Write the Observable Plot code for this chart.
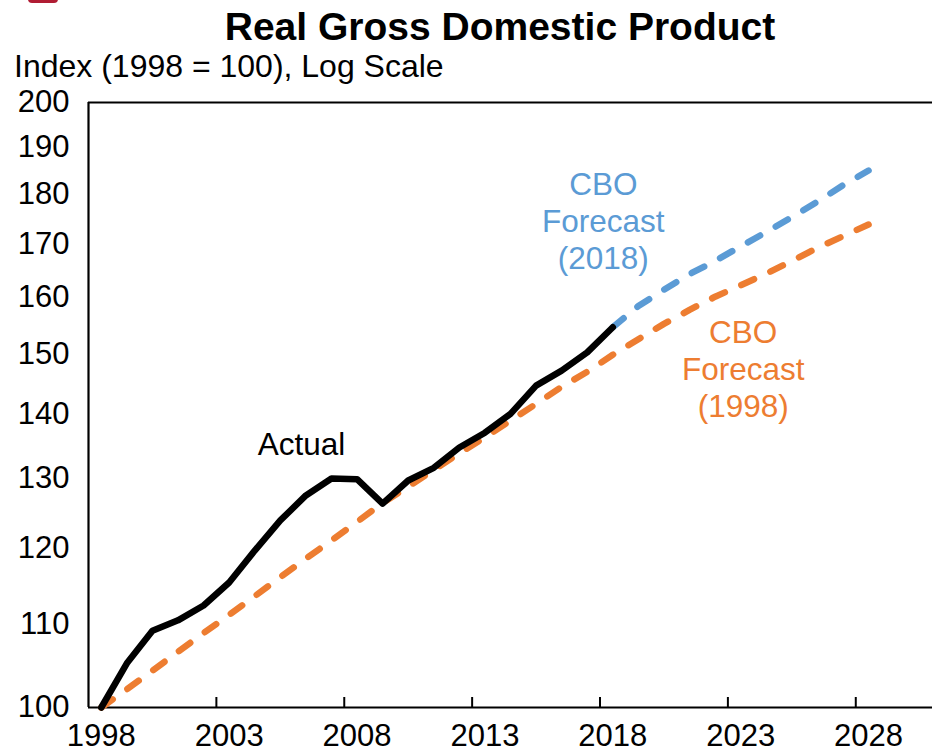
<!DOCTYPE html>
<html>
<head>
<meta charset="utf-8">
<script src="https://cdn.jsdelivr.net/npm/d3@7"></script>
<script src="https://cdn.jsdelivr.net/npm/@observablehq/plot@0.6"></script>
<style>
  html, body { margin: 0; padding: 0; background: #fff; overflow: hidden; }
  body { font-family: "Liberation Sans", Arial, Helvetica, sans-serif; color: #000; }
  #wrap { position: relative; width: 932px; height: 750px; overflow: hidden; }
  #logo { position: absolute; left: 28px; top: -8px; width: 30px; height: 11px; border-radius: 4px; background: #b01c33; }
  #title { box-sizing: content-box; padding-top: 5px; padding-left: 68px; height: 44px; line-height: 44px; font-size: 39px; font-weight: bold; text-align: center; white-space: nowrap; }
  #subtitle { padding-left: 14px; height: 34px; line-height: 34px; font-size: 32px; white-space: nowrap; }
  #chart svg { display: block; }
</style>
</head>
<body>
<div id="wrap">
  <div id="logo"></div>
  <div id="title">Real Gross Domestic Product</div>
  <div id="subtitle">Index (1998 = 100), Log Scale</div>
  <div id="chart"></div>
</div>
<script>
// ---- Data ----
const actualYears = [1998,1999,2000,2001,2002,2003,2004,2005,2006,2007,2008,2009,2010,2011,2012,2013,2014,2015,2016,2017,2018];
const actualValues = [100,105.2,109.2,110.5,112.4,115.4,119.7,123.9,127.5,130.0,129.9,126.3,129.7,131.6,134.7,137.0,140.0,144.6,147.1,150.2,154.6];

const cbo1998Years = [1998,1999,2000,2001,2002,2003,2004,2005,2006,2007,2008,2009,2010,2011,2012,2013,2014,2015,2016,2017,2018,2019,2020,2021,2022,2023,2024,2025,2026,2027,2028];
const cbo1998Values = [100,102.1,104.3,106.6,108.9,111.2,113.6,116.1,118.6,121.1,123.7,126.4,128.8,131.3,133.8,136.3,138.9,141.6,144.4,146.9,149.8,152.5,155.2,157.7,160.1,162.2,164.4,166.8,169.3,171.6,173.9];

const cbo2018Years = [2018,2019,2020,2021,2022,2023,2024,2025,2026,2027,2028];
const cbo2018Values = [154.6,158.4,161.4,164.3,166.8,169.6,172.4,175.4,178.5,181.9,185.0];

const xTickYears = [1998,2003,2008,2013,2018,2023,2028];
const yTicks = [100,110,120,130,140,150,160,170,180,190,200];
const xDomain = [1998, 2031];
const yDomain = [100, 200];

const labelTexts = ["Actual", "CBO\nForecast\n(2018)", "CBO\nForecast\n(1998)"];
const labelYears = [2006.33, 2018.13, 2023.6];
const labelValues = [135.3, 174.7, 147.45];

const colors = { actual: "#000000", cbo2018: "#5B9BD5", cbo1998: "#ED7D31" };
const labelColors = [colors.actual, colors.cbo2018, colors.cbo1998];

// ---- Build tables (categories centred in their year slot) ----
const toRows = (ys, vs) => ys.map((y, i) => ({x: y + 0.5, v: vs[i]}));
const actualRows = toRows(actualYears, actualValues);
const cbo1998Rows = toRows(cbo1998Years, cbo1998Values);
const cbo2018Rows = toRows(cbo2018Years, cbo2018Values);
const labelRows = labelTexts.map((t, i) => ({text: t, x: labelYears[i], v: labelValues[i], color: labelColors[i]}));

const font = '"Liberation Sans", Arial, Helvetica, sans-serif';

const chart = Plot.plot({
  width: 932,
  height: 667,
  marginLeft: 88,
  marginRight: 0,
  marginTop: 19,
  marginBottom: 43,
  style: { fontFamily: font, fontSize: "31px", color: "#000", background: "transparent", overflow: "visible" },
  x: { domain: xDomain, label: null },
  y: { type: "log", domain: yDomain, label: null },
  marks: [
    Plot.ruleY(yDomain, { stroke: "#000", strokeWidth: 2.2 }),
    Plot.ruleX([xDomain[0]], { stroke: "#000", strokeWidth: 2.2 }),
    Plot.axisX(xTickYears.slice(1), { tickSize: -10, tickFormat: () => "", strokeWidth: 2, label: null }),
    Plot.axisX(xTickYears.map(d => d + 0.5), { tickSize: 0, tickPadding: 16, tickFormat: d => String(Math.floor(d)), fontSize: 31, fill: "#000", label: null }),
    Plot.axisY(yTicks, { tickSize: 0, tickPadding: 19, tickFormat: d => String(d), fontSize: 31, fill: "#000", label: null }),
    Plot.line(cbo1998Rows, { x: "x", y: "v", stroke: colors.cbo1998, strokeWidth: 6.5, strokeDasharray: "14,18", strokeLinecap: "round" }),
    Plot.line(cbo2018Rows, { x: "x", y: "v", stroke: colors.cbo2018, strokeWidth: 6.5, strokeDasharray: "14,18", strokeLinecap: "round" }),
    Plot.line(actualRows, { x: "x", y: "v", stroke: colors.actual, strokeWidth: 6.5 }),
    Plot.text(labelRows, { x: "x", y: "v", text: "text", fill: "color", fontSize: 31.5, lineHeight: 1.175, textAnchor: "middle" })
  ]
});
document.getElementById("chart").appendChild(chart);
</script>
</body>
</html>
